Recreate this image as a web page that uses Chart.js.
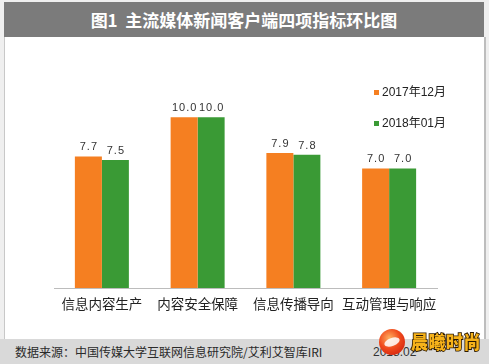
<!DOCTYPE html>
<html><head><meta charset="utf-8">
<script src="https://cdn.jsdelivr.net/npm/chart.js@4"></script>
<style>
html,body{margin:0;padding:0;}
body{width:489px;height:364px;position:relative;overflow:hidden;background:#efefef;font-family:"Liberation Sans","Noto Sans CJK SC",sans-serif;}
#header{position:absolute;left:4px;top:2px;width:480px;height:35px;background:#7b7b7b;color:#fff;font-weight:bold;font-size:17px;line-height:35px;text-align:center;font-family:"Noto Sans CJK SC","Liberation Sans",sans-serif;}
#panel{position:absolute;left:4px;top:37px;width:479px;height:302px;background:#fff;border-left:1px solid #c8c8c8;border-right:2px solid #bdbdbd;}
#footer{position:absolute;left:0;top:339px;width:489px;height:25px;background:#d9d9d9;}
#src{position:absolute;left:15px;top:344px;font-size:12px;color:#2a2a2a;font-family:"Noto Sans CJK SC",sans-serif;line-height:16px;white-space:nowrap;}
#date{position:absolute;left:373px;top:344px;font-size:12px;color:#333;line-height:16px;font-family:"Liberation Sans",sans-serif;}
canvas#c{position:absolute;left:0;top:0;}
.leg{position:absolute;font-size:12px;color:#222;line-height:14px;white-space:nowrap;font-family:"Liberation Sans","Noto Sans CJK SC",sans-serif;}
.leg i{display:inline-block;width:5px;height:5px;margin-right:3px;vertical-align:1px;}
#logo{position:absolute;left:379px;top:329px;width:26px;height:26px;border-radius:50%;background:radial-gradient(circle at 40% 35%,#ffb060 0%,#f04a1c 45%,#c8140c 100%);}
#logo:after{content:"";position:absolute;left:5px;top:9px;width:16px;height:8px;border-radius:50%;background:#fff;opacity:0.85;transform:rotate(-20deg);}
#brand{position:absolute;left:411px;top:329px;font-size:17px;font-weight:900;line-height:24px;font-family:"Noto Sans CJK SC",sans-serif;color:#f6b21a;-webkit-text-stroke:1.6px #2a1800;paint-order:stroke fill;letter-spacing:0.5px;white-space:nowrap;transform:scaleY(1.1);transform-origin:left center;}
</style></head>
<body>
<div id="header">图1&nbsp; 主流媒体新闻客户端四项指标环比图</div>
<div id="panel"></div>
<div id="footer"></div>
<div id="src">数据来源：中国传媒大学互联网信息研究院/艾利艾智库IRI</div>
<div id="date">2018.02</div>
<canvas id="c" width="489" height="339"></canvas>
<div class="leg" style="left:374px;top:85px;"><i style="background:#f57f21"></i>2017年12月</div>
<div class="leg" style="left:374px;top:116px;"><i style="background:#3a9a35"></i>2018年01月</div>
<div id="logo"></div>
<div id="brand">晨曦时尚</div>
<script>
const categories = ["信息内容生产","内容安全保障","信息传播导向","互动管理与响应"];
const seriesNames = ["2017年12月","2018年01月"];
const dec2017 = [7.7, 10.0, 7.9, 7.0];
const jan2018 = [7.5, 10.0, 7.8, 7.0];
const colors = ["#f57f21","#3a9a35"];

const labelPlugin = {
  id:'valLabels',
  afterDatasetsDraw(chart){
    const ctx = chart.ctx;
    ctx.save();
    ctx.font = '11px "Liberation Sans", sans-serif';
    ctx.fillStyle = '#333';
    ctx.textAlign = 'center';
    ctx.textBaseline = 'alphabetic';
    try{ ctx.letterSpacing = '1px'; }catch(e){}
    chart.data.datasets.forEach((ds,i)=>{
      chart.getDatasetMeta(i).data.forEach((bar,j)=>{
        ctx.fillText(ds.data[j].toFixed(1), bar.x + 0.5, bar.y - 6);
      });
    });
    ctx.restore();
  }
};

new Chart(document.getElementById('c'),{
  type:'bar',
  data:{
    labels:categories,
    datasets:[
      {label:seriesNames[0],data:dec2017,backgroundColor:colors[0],categoryPercentage:0.564,barPercentage:1},
      {label:seriesNames[1],data:jan2018,backgroundColor:colors[1],categoryPercentage:0.564,barPercentage:1}
    ]
  },
  options:{
    responsive:false,animation:false,
    layout:{padding:{left:54,right:52,top:83,bottom:0}},
    plugins:{legend:{display:false},tooltip:{enabled:false}},
    scales:{
      y:{display:false,min:0,max:12},
      x:{
        grid:{display:false,drawTicks:false},
        border:{display:true,color:'#bcbcbc',width:1},
        ticks:{padding:8,color:'#222',maxRotation:0,minRotation:0,autoSkip:false,font:{size:13.5,family:'"Noto Sans CJK SC", sans-serif'}},
        afterFit(scale){scale.height=51;}
      }
    }
  },
  plugins:[labelPlugin]
});
</script>
</body></html>
